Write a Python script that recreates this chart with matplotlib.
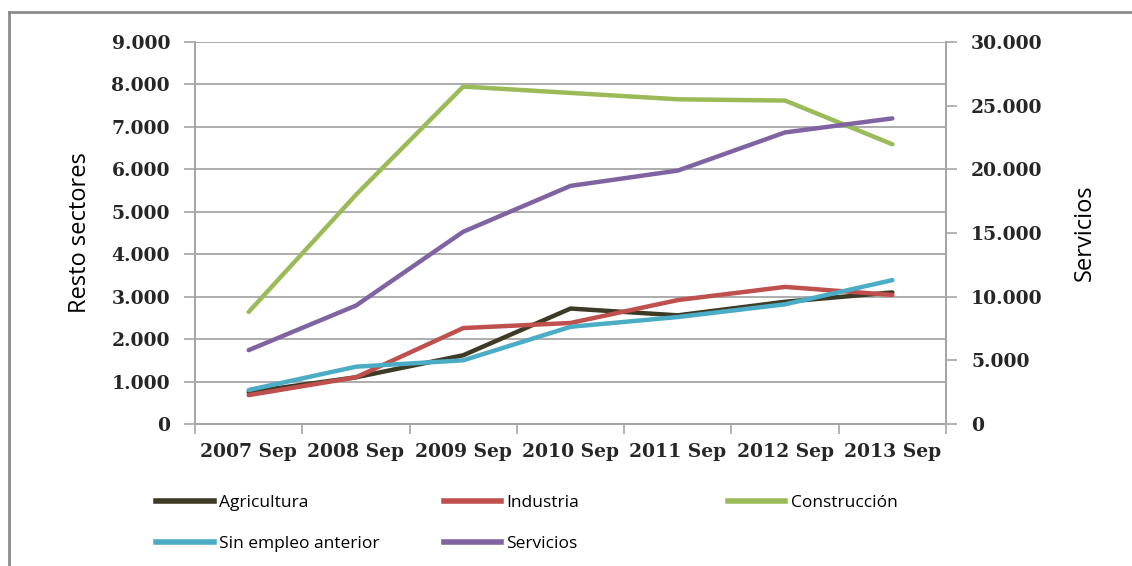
import matplotlib
matplotlib.use("Agg")
import matplotlib.pyplot as plt
from matplotlib.lines import Line2D
from matplotlib.ticker import FuncFormatter, FixedLocator

# categories and series
periodos = ["2007 Sep", "2008 Sep", "2009 Sep", "2010 Sep", "2011 Sep", "2012 Sep", "2013 Sep"]
agricultura = [750, 1100, 1620, 2720, 2560, 2880, 3100]
industria = [680, 1100, 2260, 2380, 2920, 3230, 3040]
construccion = [2640, 5400, 7950, 7800, 7650, 7620, 6590]
sin_empleo = [800, 1350, 1500, 2290, 2520, 2820, 3390]
servicios = [5800, 9300, 15100, 18700, 19900, 22900, 24000]  # right axis

colores = {
    "Agricultura": "#3d3a25",
    "Industria": "#c0504d",
    "Construcción": "#9bbb59",
    "Sin empleo anterior": "#4bacc6",
    "Servicios": "#8064a2",
}

GRID = "#a6a6a6"
tick_font = dict(family="DejaVu Serif", weight="bold", size=13.5, color="#262626")


def miles(v, pos):
    return f"{int(v):,}".replace(",", ".")


def main():
    fig = plt.figure(figsize=(11.32, 5.66), dpi=100)
    ax = fig.add_axes([0.1723, 0.2509, 0.6634, 0.6749])
    ax2 = ax.twinx()

    x = list(range(len(periodos)))
    lw = 3.2
    ax.plot(x, agricultura, color=colores["Agricultura"], lw=lw, solid_capstyle="round")
    ax.plot(x, industria, color=colores["Industria"], lw=lw, solid_capstyle="round")
    ax.plot(x, construccion, color=colores["Construcción"], lw=lw, solid_capstyle="round")
    ax.plot(x, sin_empleo, color=colores["Sin empleo anterior"], lw=lw, solid_capstyle="round")
    ax2.plot(x, servicios, color=colores["Servicios"], lw=lw, solid_capstyle="round")

    ax.set_xlim(-0.5, len(periodos) - 0.5)
    ax.set_ylim(0, 9000)
    ax2.set_ylim(0, 30000)
    ax.set_yticks(range(0, 9001, 1000))
    ax2.set_yticks(range(0, 30001, 5000))
    ax.yaxis.set_major_formatter(FuncFormatter(miles))
    ax2.yaxis.set_major_formatter(FuncFormatter(miles))

    # category boundaries get the tick marks, labels sit in the middle
    ax.xaxis.set_major_locator(FixedLocator([i - 0.5 for i in range(len(periodos) + 1)]))
    ax.xaxis.set_minor_locator(FixedLocator(x))
    ax.set_xticklabels([])
    ax.set_xticklabels(periodos, minor=True)
    ax.tick_params(axis="x", which="major", length=7, width=1.2, color=GRID)
    ax.tick_params(axis="x", which="minor", length=0, pad=14)
    for t in ax.get_xticklabels(minor=True):
        t.set(**tick_font)

    ax.tick_params(axis="y", length=8, width=1.2, color=GRID, pad=10)
    ax2.tick_params(axis="y", length=8, width=1.2, color=GRID, pad=10)
    for t in ax.get_yticklabels() + ax2.get_yticklabels():
        t.set(**tick_font)

    ax.grid(axis="y", color=GRID, lw=1.3)
    ax.set_axisbelow(True)
    for a in (ax, ax2):
        a.spines["top"].set_visible(False)
        for s in ("left", "right", "bottom"):
            a.spines[s].set_color(GRID)
            a.spines[s].set_linewidth(1.3)

    ax.set_ylabel("Resto sectores", fontsize=17, family="Open Sans", labelpad=14)
    ax2.set_ylabel("Servicios", fontsize=17, family="Open Sans", labelpad=22)

    # legend in three columns, placed one column at a time
    columnas = [
        (["Agricultura", "Sin empleo anterior"], 0.132),
        (["Industria", "Servicios"], 0.386),
        (["Construcción"], 0.637),
    ]
    for nombres, x0 in columnas:
        handles = [Line2D([], [], color=colores[n], lw=4) for n in nombres]
        fig.legend(handles, nombres, loc="upper left", bbox_to_anchor=(x0, 0.138),
                   frameon=False, handlelength=3.3, handletextpad=0.3,
                   labelspacing=1.45, borderaxespad=0,
                   prop=dict(family="Open Sans", size=12.5))

    # outer chart frame (left and top edges are visible)
    fig.add_artist(Line2D([9 / 1132, 9 / 1132], [0, 1 - 12 / 566], color="#8c8c8c", lw=2))
    fig.add_artist(Line2D([9 / 1132, 1], [1 - 12 / 566, 1 - 12 / 566], color="#8c8c8c", lw=2))

    fig.savefig("out.png", dpi=100)


if __name__ == "__main__":
    main()
